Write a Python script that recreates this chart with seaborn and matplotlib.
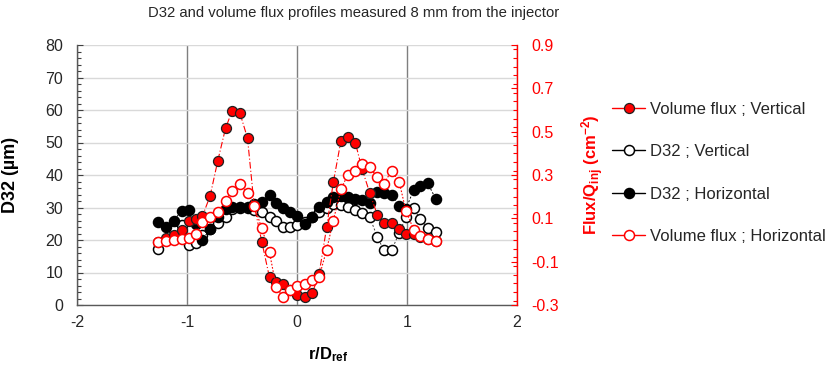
import matplotlib
matplotlib.use("Agg")
import matplotlib.pyplot as plt
import seaborn as sns
import numpy as np
import pandas as pd
from matplotlib.lines import Line2D
from matplotlib.ticker import MultipleLocator, FormatStrFormatter

# ---------------- data ----------------
r_pos = [-1.26, -1.19, -1.12, -1.05, -0.98, -0.92, -0.86, -0.79, -0.72, -0.65,
         -0.59, -0.52, -0.45, -0.39, -0.32, -0.25, -0.19, -0.13, -0.06, 0.00,
         0.07, 0.14, 0.20, 0.27, 0.33, 0.40, 0.46, 0.53, 0.59, 0.66,
         0.73, 0.79, 0.86, 0.93, 0.99, 1.06, 1.12, 1.19, 1.26]

flux_vertical = [-0.008, 0.008, 0.023, 0.045, 0.087, 0.098, 0.110, 0.203, 0.366, 0.515,
                 0.596, 0.588, 0.470, 0.162, -0.008, -0.173, -0.192, -0.203, -0.233, -0.255,
                 -0.263, -0.243, -0.159, 0.060, 0.266, 0.459, 0.474, 0.450, 0.330, 0.219,
                 0.116, 0.077, 0.077, 0.053, 0.030, 0.030, 0.015, 0.005, -0.005]

d32_vertical = [17.2, 20.0, 23.0, 24.5, 18.5, 19.0, 21.5, 23.5, 25.1, 27.0,
                29.5, 30.0, 30.0, 29.2, 28.7, 27.2, 25.8, 23.9, 24.1, 24.5,
                25.5, 27.0, 28.7, 30.0, 31.0, 30.8, 30.3, 29.2, 28.2, 27.1,
                21.0, 16.8, 16.8, 22.3, 27.0, 29.7, 26.4, 23.6, 22.6]

d32_horizontal = [25.4, 24.1, 26.0, 29.0, 29.3, 25.0, 20.0, 23.5, 27.0, 29.5,
                  30.2, 30.2, 30.3, 31.0, 31.8, 34.0, 31.3, 29.8, 28.5, 27.3,
                  25.0, 27.0, 30.3, 31.8, 33.1, 33.5, 33.3, 32.5, 32.3, 31.5,
                  34.9, 34.6, 33.9, 30.5, 29.5, 35.4, 36.6, 37.4, 32.7]

flux_horizontal = [-0.008, -0.003, 0.000, 0.003, 0.008, 0.027, 0.084, 0.105, 0.129, 0.182,
                   0.227, 0.257, 0.216, 0.159, 0.054, -0.057, -0.216, -0.263, -0.233, -0.210,
                   -0.201, -0.183, -0.173, -0.044, 0.090, 0.234, 0.300, 0.320, 0.351, 0.336,
                   0.290, 0.260, 0.320, 0.266, 0.135, 0.048, 0.018, 0.006, -0.005]

labels = ["Volume flux ; Vertical", "D32 ; Vertical", "D32 ; Horizontal",
          "Volume flux ; Horizontal"]
x_ticks = [-2, -1, 0, 1, 2]
left_ticks = [0, 10, 20, 30, 40, 50, 60, 70, 80]
right_ticks = [-0.3, -0.1, 0.1, 0.3, 0.5, 0.7, 0.9]

title = "D32 and volume flux profiles measured 8 mm from the injector"

# ---------------- style ----------------
sns.set_theme(style="white")
plt.rcParams["font.family"] = ["Liberation Sans", "DejaVu Sans"]
plt.rcParams["mathtext.fontset"] = "custom"
plt.rcParams["mathtext.rm"] = "Liberation Sans"
plt.rcParams["mathtext.bf"] = "Liberation Sans:bold"
plt.rcParams["mathtext.it"] = "Liberation Sans:italic"
plt.rcParams["axes.unicode_minus"] = False

RED = "#ff0000"
fig = plt.figure(figsize=(8.27, 3.65), dpi=100)
ax = fig.add_axes([77 / 827, 60 / 365, 440 / 827, 260 / 365])
ax2 = ax.twinx()

df = pd.DataFrame({"r": r_pos, "fv": flux_vertical, "dv": d32_vertical,
                   "dh": d32_horizontal, "fh": flux_horizontal})

ms = 7.2
mew = 1.1
# D32 on left axis
sns.lineplot(data=df, x="r", y="dv", ax=ax, color="#404040", linestyle=(0, (2, 2)),
             linewidth=0.7, marker="o", markersize=ms, markerfacecolor="white",
             markeredgecolor="black", markeredgewidth=mew, sort=False, zorder=3)
sns.lineplot(data=df, x="r", y="dh", ax=ax, color="black", linestyle=(0, (2, 2)),
             linewidth=0.7, marker="o", markersize=ms, markerfacecolor="black",
             markeredgecolor="black", markeredgewidth=mew, sort=False, zorder=4)
# flux on right axis
sns.lineplot(data=df, x="r", y="fv", ax=ax2, color=RED, linestyle=(0, (6, 2, 1, 2)),
             linewidth=0.8, marker="o", markersize=ms, markerfacecolor=RED,
             markeredgecolor="#202020", markeredgewidth=0.9, sort=False, zorder=3)
sns.lineplot(data=df, x="r", y="fh", ax=ax2, color=RED, linestyle=(0, (1.5, 1.5)),
             linewidth=0.8, marker="o", markersize=ms, markerfacecolor="white",
             markeredgecolor=RED, markeredgewidth=mew, sort=False, zorder=4)

# axes limits & ticks
ax.set_xlim(-2, 2)
ax.set_ylim(0, 80)
ax2.set_ylim(-0.3, 0.9)
ax.set_xticks(x_ticks)
ax.set_yticks(left_ticks)
ax2.set_yticks(right_ticks)
ax2.yaxis.set_major_formatter(FormatStrFormatter("%.1f"))
ax.xaxis.set_minor_locator(MultipleLocator(0.2))
ax.yaxis.set_minor_locator(MultipleLocator(2))
ax2.yaxis.set_minor_locator(MultipleLocator(0.04))

ax.tick_params(axis="both", which="both", direction="in", colors="#404040",
               labelcolor="#262626", labelsize=11.5)
ax.tick_params(axis="both", which="major", length=4, width=0.8)
ax.tick_params(axis="both", which="minor", length=3, width=0.8)
ax.tick_params(axis="y", pad=10)
ax.tick_params(axis="x", pad=7)
ax2.tick_params(axis="y", which="both", direction="in", colors=RED,
                labelcolor=RED, labelsize=11.5, pad=10)
ax2.tick_params(axis="y", which="major", length=4, width=0.8)
ax2.tick_params(axis="y", which="minor", length=3, width=0.8)

# grid
ax.set_axisbelow(True)
ax.yaxis.grid(True, color="#d9d9d9", linewidth=1.0)
ax.xaxis.grid(True, color="#7f7f7f", linewidth=1.0)

# spines
for s in ["top", "right"]:
    ax.spines[s].set_visible(False)
for s in ["top", "left", "bottom"]:
    ax2.spines[s].set_visible(False)
ax.spines["left"].set_color("#595959")
ax.spines["bottom"].set_color("#595959")
ax.spines["left"].set_linewidth(1.0)
ax.spines["bottom"].set_linewidth(1.0)
ax2.spines["right"].set_color(RED)
ax2.spines["right"].set_linewidth(1.0)

# labels
ax.set_xlabel(r"$\mathbf{r/D_{ref}}$", fontsize=12, color="black")
ax.xaxis.set_label_coords((328 - 77) / 440, (305 - 345) / 260)
ax.set_ylabel("D32 (µm)", fontsize=13, fontweight="bold", color="black")
ax.yaxis.set_label_coords((19 - 77) / 440, 0.5)
ax2.set_ylabel(r"$\mathbf{Flux/Q_{inj}\ (cm^{-2})}$", fontsize=12, color=RED)
ax2.yaxis.set_label_coords((580 - 77) / 440, 0.5)

fig.text(354 / 827, 1 - 13 / 365, title, ha="center", va="center",
         fontsize=10.7, color="#262626")

# legend
handles = [
    Line2D([], [], color=RED, lw=1.0, marker="o", markersize=ms,
           markerfacecolor=RED, markeredgecolor="#202020", markeredgewidth=0.9),
    Line2D([], [], color="black", lw=1.0, marker="o", markersize=ms,
           markerfacecolor="white", markeredgecolor="black", markeredgewidth=mew),
    Line2D([], [], color="black", lw=1.0, marker="o", markersize=ms,
           markerfacecolor="black", markeredgecolor="black", markeredgewidth=mew),
    Line2D([], [], color=RED, lw=1.0, marker="o", markersize=ms,
           markerfacecolor="white", markeredgecolor=RED, markeredgewidth=mew),
]
fig.legend(handles, labels, loc="center left", bbox_to_anchor=(612 / 827, 1 - 173 / 365),
           frameon=False, fontsize=12, labelspacing=1.65, handlelength=2.0,
           handletextpad=0.3, borderaxespad=0, borderpad=0)

fig.savefig("out.png", dpi=100)
